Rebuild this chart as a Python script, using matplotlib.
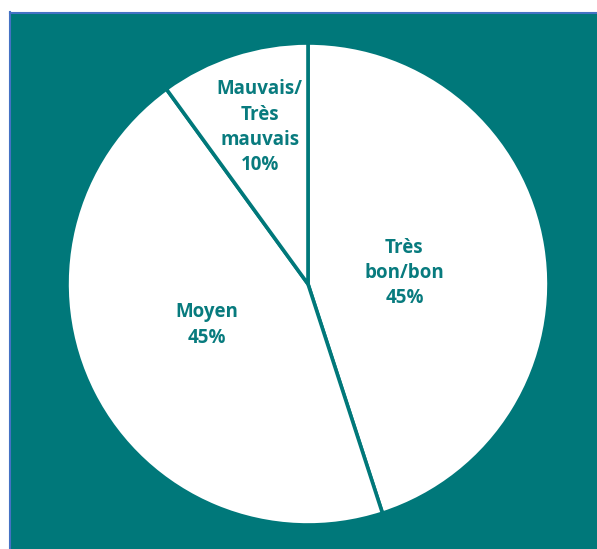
import matplotlib.pyplot as plt
from matplotlib.patches import Rectangle

categories = ['Très\nbon/bon', 'Moyen', 'Mauvais/\nTrès\nmauvais']
values = [45, 45, 10]

teal = '#00787A'

fig = plt.figure(figsize=(5.97, 5.49), dpi=100)

# teal panel with thin blue border on top/left
fig.add_artist(Rectangle((9 / 597, 0), 1, 1 - 12 / 549, transform=fig.transFigure,
                         facecolor=teal, edgecolor='none', zorder=-2))
fig.add_artist(plt.Line2D([9.5 / 597, 9.5 / 597], [0, 1 - 12 / 549], transform=fig.transFigure,
                          color='#4472C4', lw=1.5, zorder=-1))
fig.add_artist(plt.Line2D([9.5 / 597, 1], [1 - 12.5 / 549, 1 - 12.5 / 549], transform=fig.transFigure,
                          color='#4472C4', lw=1.5, zorder=-1))

ax = fig.add_axes([67 / 597, 24 / 549, 482 / 597, 482 / 549])
ax.set_facecolor('none')
ax.set_zorder(1)

labels = [f'{c}\n{v}%' for c, v in zip(categories, values)]
wedges, texts = ax.pie(values, labels=labels, startangle=90, counterclock=False,
                       colors=['white'] * 3, labeldistance=0.42,
                       wedgeprops=dict(edgecolor=teal, linewidth=2.6),
                       textprops=dict(color='#087B7E', fontsize=13.5, fontweight='bold',
                                      family='Open Sans', ha='center', va='center',
                                      linespacing=1.35))
for t in texts:
    t.set_ha('center')
    t.set_va('center')
texts[0].set_position((0.40, 0.045))
texts[1].set_position((-0.42, -0.17))
texts[2].set_position((-0.20, 0.65))

ax.set_xlim(-1, 1)
ax.set_ylim(-1, 1)
ax.set_aspect('equal')

plt.savefig('out.png', dpi=100)
